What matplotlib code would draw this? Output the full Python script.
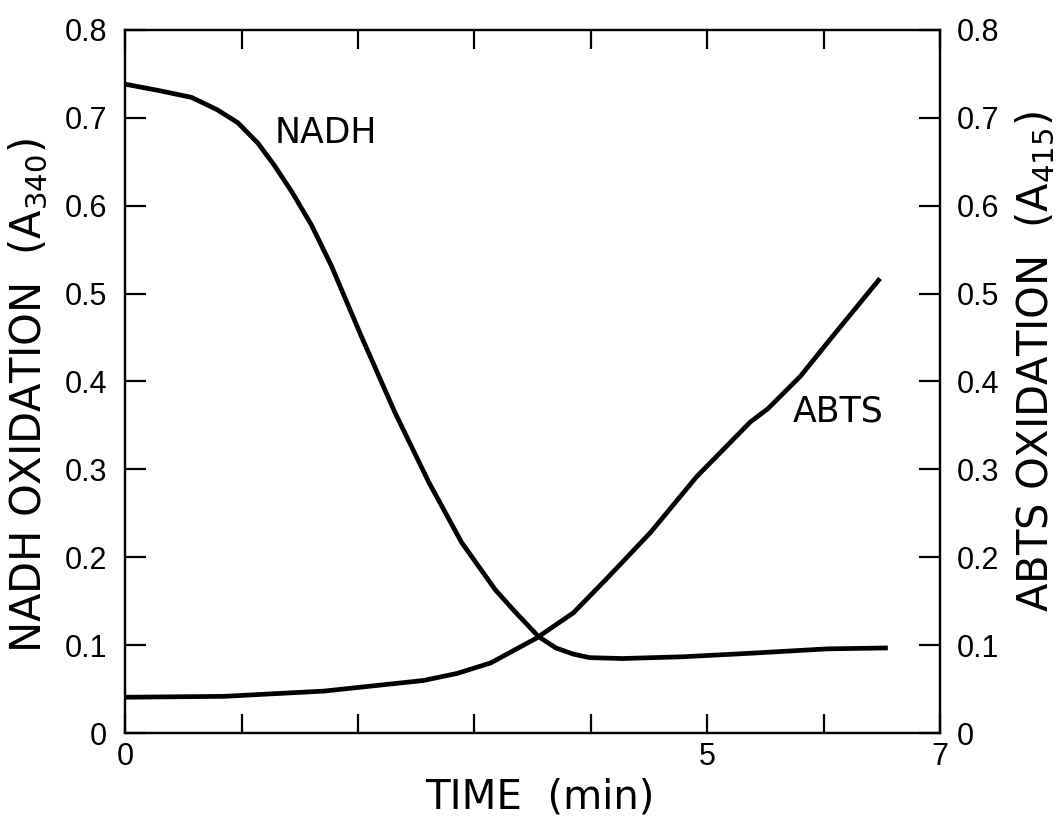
import matplotlib
matplotlib.use('Agg')
import matplotlib.pyplot as plt

# time axis (min) and absorbance readings
nadh_t = [0, 0.28, 0.57, 0.79, 0.97, 1.14, 1.28, 1.43, 1.6, 1.77, 2.03, 2.32,
          2.61, 2.89, 3.18, 3.35, 3.55, 3.7, 3.85, 3.99, 4.27, 4.79, 5.37,
          6.03, 6.53]
nadh_a = [0.738, 0.731, 0.723, 0.709, 0.694, 0.671, 0.646, 0.616, 0.578, 0.532,
          0.451, 0.364, 0.285, 0.217, 0.163, 0.138, 0.110, 0.097, 0.090, 0.086,
          0.085, 0.087, 0.091, 0.096, 0.097]

abts_t = [0, 0.85, 1.71, 2.56, 2.85, 3.14, 3.53, 3.85, 4.13, 4.51, 4.91, 5.37,
          5.52, 5.80, 6.08, 6.47]
abts_a = [0.041, 0.042, 0.048, 0.060, 0.068, 0.080, 0.108, 0.137, 0.175, 0.228,
          0.292, 0.354, 0.369, 0.406, 0.452, 0.515]

x_ticks = [0, 1, 2, 3, 4, 5, 6, 7]
x_labels = ['0', '', '', '', '', '5', '', '7']
y_ticks = [0, 0.1, 0.2, 0.3, 0.4, 0.5, 0.6, 0.7, 0.8]
y_labels = ['0', '0.1', '0.2', '0.3', '0.4', '0.5', '0.6', '0.7', '0.8']

label_font = ['DejaVu Sans']
tick_font = ['Liberation Sans', 'DejaVu Sans']

fig = plt.figure(figsize=(10.6, 8.23), dpi=100)
ax = fig.add_axes([0.118, 0.109, 0.769, 0.855])
ax2 = ax.twinx()

ax.plot(nadh_t, nadh_a, color='black', linewidth=3.4)
ax2.plot(abts_t, abts_a, color='black', linewidth=3.4)

ax.set_xlim(0, 7)
ax.set_ylim(0, 0.8)
ax2.set_ylim(0, 0.8)

ax.set_xticks(x_ticks)
ax.set_xticklabels(x_labels, fontfamily=tick_font, fontsize=22)
ax.set_yticks(y_ticks)
ax.set_yticklabels(y_labels, fontfamily=tick_font, fontsize=22)
ax2.set_yticks(y_ticks)
ax2.set_yticklabels(y_labels, fontfamily=tick_font, fontsize=22)

ax.tick_params(axis='x', direction='in', length=14, width=1.6, top=True, pad=6)
ax.tick_params(axis='y', direction='in', length=15, width=1.6, pad=13)
ax2.tick_params(axis='y', direction='in', length=15, width=1.6, pad=12)

for a in (ax, ax2):
    for s in a.spines.values():
        s.set_linewidth(1.6)

ax.set_xlabel('TIME  (min)', fontfamily=label_font, fontsize=29)
ax.xaxis.set_label_coords(0.509, -0.063)
ax.set_ylabel('NADH OXIDATION  (A$_{340}$)', fontfamily=label_font, fontsize=30)
ax.yaxis.set_label_coords(-0.092, 0.48)
ax2.set_ylabel('ABTS OXIDATION  (A$_{415}$)', fontfamily=label_font, fontsize=30,
               rotation=90)
ax2.yaxis.set_label_coords(1.091, 0.528)

ax.text(1.72, 0.683, 'NADH', fontfamily=label_font, fontsize=25,
        ha='center', va='center')
ax2.text(6.12, 0.366, 'ABTS', fontfamily=label_font, fontsize=25,
         ha='center', va='center')

fig.savefig('out.png', dpi=100)
